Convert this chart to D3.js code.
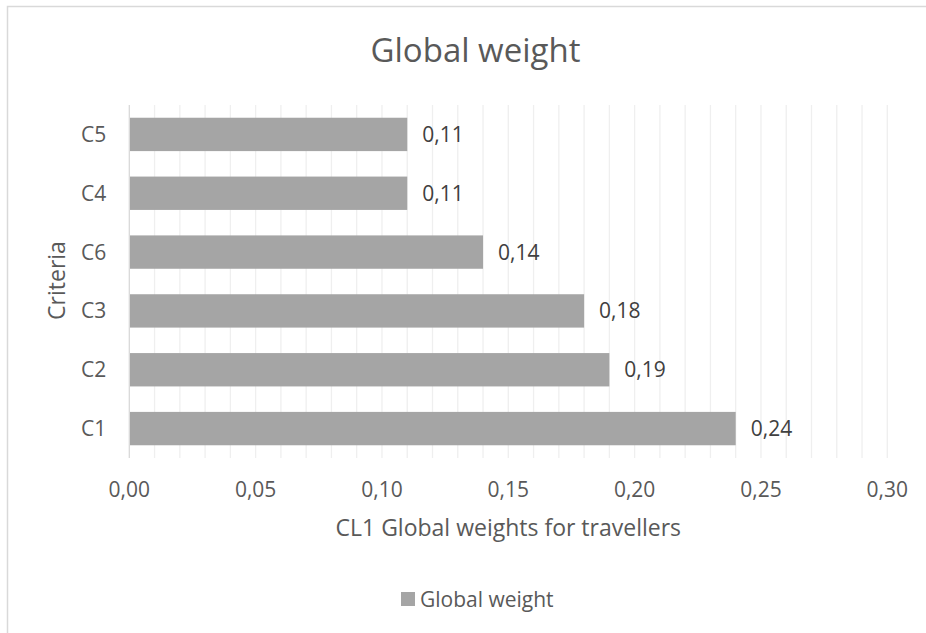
<!DOCTYPE html>
<html>
<head>
<meta charset="utf-8">
<script src="https://cdn.jsdelivr.net/npm/d3@7"></script>
<style>
  html, body { margin: 0; padding: 0; background: #fff; }
  svg { display: block; font-family: "Open Sans", sans-serif; }
</style>
</head>
<body>
<svg id="chart" width="926" height="633"></svg>
<script>
// Criteria listed top to bottom, with their global weights
const categories = ["C5", "C4", "C6", "C3", "C2", "C1"];
const weights = [0.11, 0.11, 0.14, 0.18, 0.19, 0.24];
const majorTicks = [0, 0.05, 0.10, 0.15, 0.20, 0.25, 0.30];
const minorTicks = d3.range(0, 31).map(i => i / 100);
const seriesName = "Global weight";

const svg = d3.select("#chart");
const fmt = v => d3.format(".2f")(v).replace(".", ",");

// chart frame
svg.append("rect")
  .attr("x", 7.5).attr("y", 6.5)
  .attr("width", 940).attr("height", 650)
  .attr("fill", "#fff").attr("stroke", "#d9d9d9").attr("stroke-width", 1.5);

const plot = { left: 129.3, right: 887.3, top: 105, bottom: 458 };

const x = d3.scaleLinear().domain([0, 0.30]).range([plot.left, plot.right]);
const y = d3.scaleBand().domain(categories).range([plot.top, plot.bottom]).paddingInner(0.433).paddingOuter(0.2165);
const mid = c => y(c) + y.bandwidth() / 2;

// vertical gridlines (minor every 0.01)
svg.append("g").selectAll("line").data(minorTicks.slice(1)).join("line")
  .attr("x1", d => x(d)).attr("x2", d => x(d))
  .attr("y1", plot.top).attr("y2", plot.bottom)
  .attr("stroke", "#efefef").attr("stroke-width", 1.3);

// category axis line
svg.append("line")
  .attr("x1", x(0)).attr("x2", x(0))
  .attr("y1", plot.top).attr("y2", plot.bottom)
  .attr("stroke", "#d9d9d9").attr("stroke-width", 1.3);

// bars
svg.append("g").selectAll("rect").data(weights).join("rect")
  .attr("x", x(0) + 0.7)
  .attr("y", (d, i) => y(categories[i]))
  .attr("width", d => x(d) - x(0) - 0.7)
  .attr("height", y.bandwidth())
  .attr("fill", "#a5a5a5");

// value labels
svg.append("g").selectAll("text").data(weights).join("text")
  .attr("x", d => x(d) + 15)
  .attr("y", (d, i) => mid(categories[i]) + 7.5)
  .attr("font-size", 21)
  .attr("fill", "#404040")
  .text(d => fmt(d));

// category labels
svg.append("g").selectAll("text").data(categories).join("text")
  .attr("x", x(0) - 23)
  .attr("y", d => mid(d) + 7.5)
  .attr("text-anchor", "end")
  .attr("font-size", 21)
  .attr("fill", "#595959")
  .text(d => d);

// value axis tick labels
svg.append("g").selectAll("text").data(majorTicks).join("text")
  .attr("x", d => x(d))
  .attr("y", 496.5)
  .attr("text-anchor", "middle")
  .attr("font-size", 21)
  .attr("fill", "#595959")
  .text(d => fmt(d));

// title
svg.append("text")
  .attr("x", 475.5).attr("y", 61.5)
  .attr("text-anchor", "middle")
  .attr("font-size", 33)
  .attr("fill", "#595959")
  .text("Global weight");

// axis titles
svg.append("text")
  .attr("x", x(0.15)).attr("y", 536)
  .attr("text-anchor", "middle")
  .attr("font-size", 23)
  .attr("fill", "#595959")
  .text("CL1 Global weights for travellers");

svg.append("text")
  .attr("transform", `translate(65, ${(plot.top + plot.bottom) / 2 - 1}) rotate(-90)`)
  .attr("text-anchor", "middle")
  .attr("font-size", 23)
  .attr("fill", "#595959")
  .text("Criteria");

// legend
const legend = svg.append("g").attr("transform", "translate(401, 599)");
legend.append("rect").attr("x", 0).attr("y", -7).attr("width", 14).attr("height", 14).attr("fill", "#a5a5a5");
legend.append("text").attr("x", 19).attr("y", 7.5)
  .attr("font-size", 21).attr("fill", "#595959").text(seriesName);
</script>
</body>
</html>
